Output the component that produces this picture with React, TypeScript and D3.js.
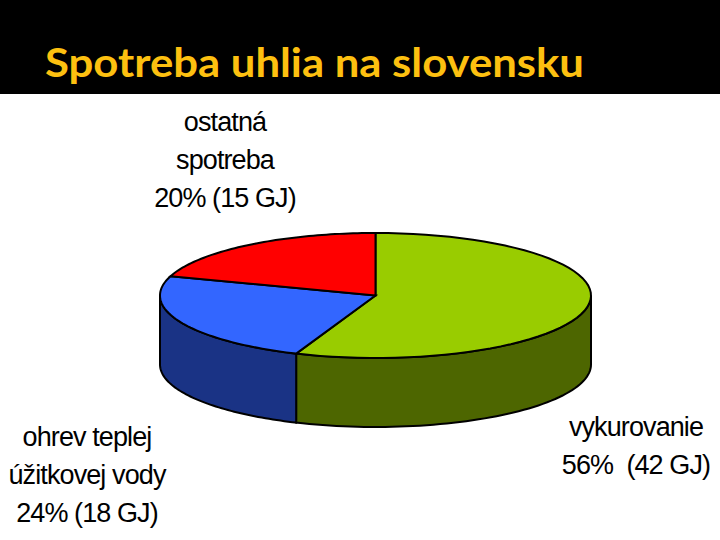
import React from 'react';
import * as d3 from 'd3';

const categories = ['vykurovanie', 'ohrev', 'ostatna'];
const values = [56, 24, 20];
const topColors = ['#99cc00', '#3366ff', '#ff0000'];
const sideColors = ['#4d6600', '#1a3385', '#800000'];
const labelLines = [
  ['ostatná', 'spotreba', '20% (15 GJ)'],
  ['ohrev teplej', 'úžitkovej vody', '24% (18 GJ)'],
  ['vykurovanie', '56%  (42 GJ)'],
];

const cx = 375.5;
const cy = 295.5;
const rx = 215.5;
const ry = 62.5;
const depth = 69;

const App: React.FC = () => {
  const pie = d3.pie<number>().sort(null).startAngle(0).endAngle(2 * Math.PI);
  const arcs = pie(values);
  const px = (a: number) => cx + rx * Math.sin(a);
  const py = (a: number) => cy - ry * Math.cos(a);

  const topPath = (s: number, e: number) => {
    const p = d3.path();
    p.moveTo(cx, cy);
    p.lineTo(px(s), py(s));
    const n = 60;
    for (let i = 1; i <= n; i++) {
      const a = s + ((e - s) * i) / n;
      p.lineTo(px(a), py(a));
    }
    p.closePath();
    return p.toString();
  };

  const sidePath = (s: number, e: number) => {
    const from = Math.max(s, Math.PI / 2);
    const to = Math.min(e, (3 * Math.PI) / 2);
    if (from >= to) return '';
    const n = 60;
    const p = d3.path();
    p.moveTo(px(from), py(from));
    for (let i = 1; i <= n; i++) {
      const a = from + ((to - from) * i) / n;
      p.lineTo(px(a), py(a));
    }
    for (let i = n; i >= 0; i--) {
      const a = from + ((to - from) * i) / n;
      p.lineTo(px(a), py(a) + depth);
    }
    p.closePath();
    return p.toString();
  };

  const lineH = 38;
  const labelStyle: React.CSSProperties = {
    fontFamily: 'Liberation Sans, Arial, sans-serif',
    fontSize: 27,
    fill: '#000',
    textAnchor: 'middle',
    letterSpacing: -0.9,
    whiteSpace: 'pre',
  };
  const labelPos = [
    { x: 225, y: 131 },
    { x: 87, y: 446 },
    { x: 636, y: 436 },
  ];

  return (
    <svg width={720} height={540} style={{ position: 'absolute', left: 0, top: 0, background: '#fff' }}>
      <rect x={0} y={0} width={720} height={94} fill="#000" />
      <text x={45} y={77} fontFamily="Lato, 'Open Sans', sans-serif" fontWeight={700} fontSize={40} fill="#fdc010" textLength={539} lengthAdjust="spacingAndGlyphs">
        Spotreba uhlia na slovensku
      </text>
      {arcs.map((d, i) => (
        <path key={categories[i] + 's'} d={sidePath(d.startAngle, d.endAngle)} fill={sideColors[i]} stroke="#000" strokeWidth={2} />
      ))}
      {arcs.map((d, i) => (
        <path key={categories[i]} d={topPath(d.startAngle, d.endAngle)} fill={topColors[i]} stroke="#000" strokeWidth={2} />
      ))}
      {labelLines.map((lines, i) =>
        lines.map((t, j) => (
          <text key={t} x={labelPos[i].x} y={labelPos[i].y + j * lineH} style={labelStyle}>
            {t}
          </text>
        ))
      )}
    </svg>
  );
};

export default App;
